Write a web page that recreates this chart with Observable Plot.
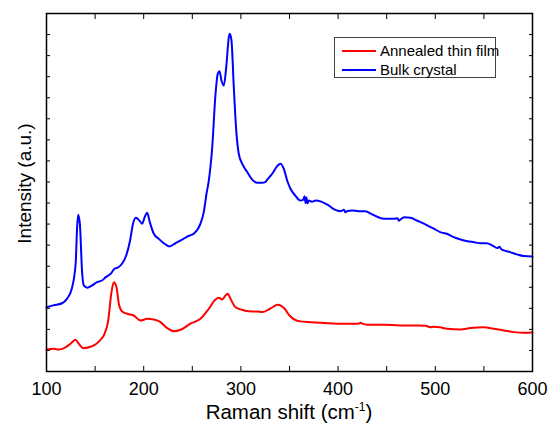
<!DOCTYPE html>
<html><head><meta charset="utf-8">
<script src="https://cdn.jsdelivr.net/npm/d3@7"></script>
<script src="https://cdn.jsdelivr.net/npm/@observablehq/plot@0.6"></script>
<style>
body{margin:0;background:#fff;}
#wrap{position:relative;width:552px;height:427px;font-family:"Liberation Sans",Arial,sans-serif;}
#legend{position:absolute;left:334px;top:37px;width:160px;height:39px;border:1px solid #444;background:#fff;font-size:15px;color:#000;}
.row{position:absolute;left:0;height:18px;line-height:18px;white-space:nowrap;}
.sw{position:absolute;left:7px;top:8px;width:34px;height:2px;}
.lt{position:absolute;left:45px;top:0;}
#xlabel{position:absolute;left:46px;width:486px;top:401px;text-align:center;font-size:20.5px;line-height:22px;color:#000;}
#xlabel sup{font-size:12px;vertical-align:8px;line-height:0;}
</style></head>
<body>
<div id="wrap"></div>
<script>
// Raman shift (cm-1) and intensity (a.u.)
const seriesNames = ["Annealed thin film", "Bulk crystal"];
const seriesColors = ["#ff0000", "#0000ff"];

const filmX = [100,107.5,112.7,119.5,124.7,129.8,133.2,137.8,143.5,148.7,
  154.8,159.7,163.5,166.6,169.2,172,174.4,177.9,183,189.8,
  196.7,203.6,210.4,216.5,224.2,231,237.9,248.1,258.4,267,
  273.9,277.3,280.8,284.2,286.5,289.3,294.4,301.3,308.1,316.8,
  322,330,338,345,350,361,372,382,402.5,421,
  423,425,430,447,464,481,490,495,498,505,
  512,526,536,550,560,570.5,581,591,600];
const filmY = [104,108,104,115,132,151,132,111,115,124,
  147,179,242,369,424,400,322,285,274,266,
  242,250,247,237,206,191,198,227,250,298,
  342,350,342,361,369,345,305,293,286,285,
  282,298,317,298,266,238,234,231,227,227,
  232,227,222,222,219,219,217,210,213,210,
  203,200,206,210,203,195,187,184,185];

const bulkX = [100,107,116,121,126,130,131.5,132.6,134.3,136.7,
  138.4,142,147,152,157,161,166,170,174,178,
  182,186,189,192,196,198.5,201,203.6,206.3,210.4,
  215.5,220.7,226.5,232.7,239.6,244.8,251.5,258.4,261.8,264.6,
  267,270.5,273.9,276.2,278,280,282.4,284.9,287.6,288.6,
  290.3,292.7,295.2,297.8,301.3,306.5,311.6,316.8,321.9,325,
  327.1,332.2,337.3,340.7,344.1,347.6,351,356,361,364,
  365.5,366.5,367.5,368.5,370,373,377,382,389,396,
  402.5,406,407.5,409,414.5,421,428,435,444,450,
  457,461,462.5,464,468,474.5,481,484.8,491.7,498.5,
  505,512,519,526,533,540,546.5,553,558.5,563.7,
  566,568,570.5,577,584,591,600];
const bulkY = [305,314,324,345,393,513,685,744,702,466,
  409,398,409,424,432,448,464,488,495,514,
  551,622,702,730,714,702,733,754,709,654,
  630,609,594,609,626,641,654,702,757,844,
  907,1065,1319,1414,1426,1382,1358,1445,1588,1604,
  1572,1350,1145,1034,987,947,911,896,896,899,
  911,939,975,987,963,907,868,835,812,815,
  832,800,826,798,812,806,812,808,792,770,
  761,768,756,761,765,761,761,746,728,725,
  725,728,716,721,733,730,717,709,694,678,
  662,654,638,627,619,614,609,609,599,586,
  592,580,575,567,556,548,546];

const xTicks = [100,150,200,250,300,350,400,450,500,550,600];
const xLabels = [100,200,300,400,500,600];
const yTicks = d3.range(0, 1701, 100);

const film = filmX.map((x, i) => ({x, y: filmY[i]}));
const bulk = bulkX.map((x, i) => ({x, y: bulkY[i]}));

const chart = Plot.plot({
  width: 552, height: 427,
  marginLeft: 46, marginRight: 20, marginTop: 13, marginBottom: 56,
  style: {fontFamily: "Liberation Sans, Arial, sans-serif", fontSize: "18px", color: "#000", background: "#fff"},
  x: {domain: [100, 600]},
  y: {domain: [0, 1700]},
  marks: [
    Plot.line(bulk, {x: "x", y: "y", stroke: seriesColors[1], strokeWidth: 2, curve: "monotone-x"}),
    Plot.line(film, {x: "x", y: "y", stroke: seriesColors[0], strokeWidth: 2, curve: "monotone-x"}),
    Plot.axisX({anchor: "bottom", ticks: xTicks, tickSize: -5, tickPadding: 16,
      tickFormat: d => xLabels.includes(d) ? String(d) : "", label: null, stroke: "#000"}),
    Plot.axisX({anchor: "top", ticks: xTicks, tickSize: -5, tickFormat: () => "", label: null}),
    Plot.axisY({anchor: "left", ticks: yTicks, tickSize: -4, tickFormat: () => "", label: null}),
    Plot.axisY({anchor: "right", ticks: yTicks, tickSize: -4, tickFormat: () => "", label: null}),
    Plot.frame({stroke: "#000", strokeWidth: 1.5}),
    Plot.text(["Intensity (a.u.)"], {frameAnchor: "left", textAnchor: "middle", rotate: -90, dx: -22, dy: -9, fontSize: 19, fill: "#000"})
  ]
});

const wrap = document.getElementById("wrap");
wrap.appendChild(chart);

const legend = document.createElement("div");
legend.id = "legend";
seriesNames.forEach((name, i) => {
  const row = document.createElement("div");
  row.className = "row";
  row.style.top = (4 + i * 18.5) + "px";
  row.innerHTML = `<span class="sw" style="background:${seriesColors[i]}"></span><span class="lt">${name}</span>`;
  legend.appendChild(row);
});
wrap.appendChild(legend);

const xl = document.createElement("div");
xl.id = "xlabel";
xl.innerHTML = "Raman shift (cm<sup>-1</sup>)";
wrap.appendChild(xl);
</script>
</body></html>
